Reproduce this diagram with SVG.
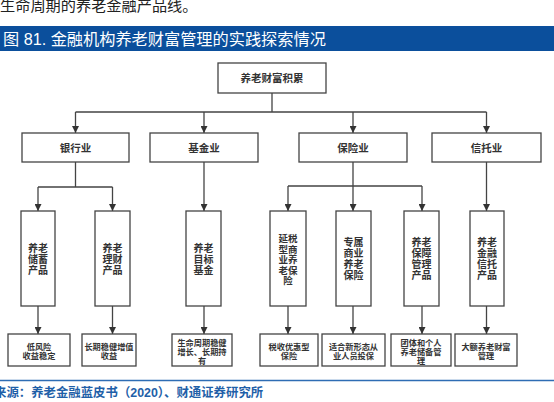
<svg xmlns="http://www.w3.org/2000/svg" width="554" height="402" viewBox="0 0 554 402">
<defs>
<style>
.box{fill:#fff;stroke:#444;stroke-width:1.3}
.t{font-family:"Liberation Sans","Noto Sans CJK SC",sans-serif;fill:#333;font-weight:bold;text-anchor:middle}
.l2{font-size:10.5px}
.l3{font-size:10px}
.l3s{font-size:9.5px}
.l4{font-size:8.2px}
.c{fill:none;stroke:#444;stroke-width:1.3}
</style>
<marker id="ah" viewBox="0 0 10 10" refX="10" refY="5" markerWidth="7" markerHeight="7" markerUnits="userSpaceOnUse" orient="auto">
<path d="M0,0 L10,5 L0,10 z" fill="#333"/>
</marker>
</defs>
<rect width="554" height="402" fill="#fff"/>
<text x="0" y="11" font-family="Liberation Sans,'Noto Sans CJK SC',sans-serif" font-size="15.2" fill="#222">生命周期的养老金融产品线。</text>
<rect x="0" y="26" width="554" height="25" fill="#0b4f9c"/>
<text x="3" y="44.5" font-family="Liberation Sans,'Noto Sans CJK SC',sans-serif" font-size="16.2" fill="#fff">图 81. 金融机构养老财富管理的实践探索情况</text>

<g id="connectors">
<path class="c" d="M272,93 V112 M75.5,112 H486.5"/>
<path class="c" marker-end="url(#ah)" d="M75.5,112 V133"/>
<path class="c" marker-end="url(#ah)" d="M204,112 V133"/>
<path class="c" marker-end="url(#ah)" d="M353,112 V133"/>
<path class="c" marker-end="url(#ah)" d="M486.5,112 V133"/>
<path class="c" d="M75.5,162 V187 M38,187 H112.5 M353,162 V186 M288,186 H422"/>
<path class="c" marker-end="url(#ah)" d="M38,187 V211"/>
<path class="c" marker-end="url(#ah)" d="M112.5,187 V211"/>
<path class="c" marker-end="url(#ah)" d="M204,162 V211"/>
<path class="c" marker-end="url(#ah)" d="M288,186 V211"/>
<path class="c" marker-end="url(#ah)" d="M353,186 V211"/>
<path class="c" marker-end="url(#ah)" d="M422,186 V211"/>
<path class="c" marker-end="url(#ah)" d="M486.5,162 V211"/>
<path class="c" marker-end="url(#ah)" d="M38,306 V334"/>
<path class="c" marker-end="url(#ah)" d="M112.5,306 V334"/>
<path class="c" marker-end="url(#ah)" d="M204,306 V334"/>
<path class="c" marker-end="url(#ah)" d="M288,306 V334"/>
<path class="c" marker-end="url(#ah)" d="M353,306 V334"/>
<path class="c" marker-end="url(#ah)" d="M422,306 V334"/>
<path class="c" marker-end="url(#ah)" d="M486.5,306 V334"/>
</g>

<g id="root"><rect class="box" x="218" y="63" width="108" height="30"/><text class="t l2" x="272" y="82">养老财富积累</text></g>

<g id="bank"><rect class="box" x="22" y="133" width="107" height="29"/><text class="t l2" x="75.5" y="151.5">银行业</text></g>
<g id="fund"><rect class="box" x="150" y="133" width="108" height="29"/><text class="t l2" x="204" y="151.5">基金业</text></g>
<g id="insurance"><rect class="box" x="299" y="133" width="108" height="29"/><text class="t l2" x="353" y="151.5">保险业</text></g>
<g id="trust"><rect class="box" x="432" y="133" width="109" height="29"/><text class="t l2" x="486.5" y="151.5">信托业</text></g>

<g id="p1"><rect class="box" x="21" y="211" width="34" height="95"/><text class="t l3"><tspan x="38" y="252">养老</tspan><tspan x="38" y="263">储蓄</tspan><tspan x="38" y="274">产品</tspan></text></g>
<g id="p2"><rect class="box" x="95" y="211" width="35" height="95"/><text class="t l3"><tspan x="112.5" y="252">养老</tspan><tspan x="112.5" y="263">理财</tspan><tspan x="112.5" y="274">产品</tspan></text></g>
<g id="p3"><rect class="box" x="186" y="211" width="35" height="95"/><text class="t l3"><tspan x="203.5" y="252">养老</tspan><tspan x="203.5" y="263">目标</tspan><tspan x="203.5" y="274">基金</tspan></text></g>
<g id="p4"><rect class="box" x="270" y="211" width="36" height="95"/><text class="t l3s"><tspan x="288" y="242">延税</tspan><tspan x="288" y="252.5">型商</tspan><tspan x="288" y="263">业养</tspan><tspan x="288" y="273.5">老保</tspan><tspan x="288" y="284">险</tspan></text></g>
<g id="p5"><rect class="box" x="336" y="211" width="35" height="95"/><text class="t l3"><tspan x="353.5" y="246">专属</tspan><tspan x="353.5" y="257">商业</tspan><tspan x="353.5" y="268">养老</tspan><tspan x="353.5" y="279">保险</tspan></text></g>
<g id="p6"><rect class="box" x="404" y="211" width="35" height="95"/><text class="t l3"><tspan x="421.5" y="246">养老</tspan><tspan x="421.5" y="257">保障</tspan><tspan x="421.5" y="268">管理</tspan><tspan x="421.5" y="279">产品</tspan></text></g>
<g id="p7"><rect class="box" x="470" y="211" width="34" height="95"/><text class="t l3"><tspan x="487" y="246">养老</tspan><tspan x="487" y="257">金融</tspan><tspan x="487" y="268">信托</tspan><tspan x="487" y="279">产品</tspan></text></g>

<g id="f1"><rect class="box" x="8" y="334" width="62" height="32"/><text class="t l4"><tspan x="39" y="350">低风险</tspan><tspan x="39" y="359">收益稳定</tspan></text></g>
<g id="f2"><rect class="box" x="82" y="334" width="54" height="32"/><text class="t l4"><tspan x="109" y="350">长期稳健增值</tspan><tspan x="109" y="359">收益</tspan></text></g>
<g id="f3"><rect class="box" x="172" y="334" width="60" height="32"/><text class="t l4"><tspan x="202" y="346">生命周期稳健</tspan><tspan x="202" y="355">增长、长期持</tspan><tspan x="202" y="364">有</tspan></text></g>
<g id="f4"><rect class="box" x="260" y="334" width="58" height="32"/><text class="t l4"><tspan x="289" y="350">税收优惠型</tspan><tspan x="289" y="359">保险</tspan></text></g>
<g id="f5"><rect class="box" x="322" y="334" width="63" height="32"/><text class="t l4"><tspan x="353.5" y="350">适合新形态从</tspan><tspan x="353.5" y="359">业人员投保</tspan></text></g>
<g id="f6"><rect class="box" x="391" y="334" width="60" height="32"/><text class="t l4"><tspan x="421" y="346">团体和个人</tspan><tspan x="421" y="355">养老储备管</tspan><tspan x="421" y="364">理</tspan></text></g>
<g id="f7"><rect class="box" x="455" y="334" width="62" height="32"/><text class="t l4"><tspan x="486" y="350">大额养老财富</tspan><tspan x="486" y="359">管理</tspan></text></g>

<line x1="0" y1="380.5" x2="554" y2="380.5" stroke="#2e6db4" stroke-width="1.5"/>
<text x="-6" y="397" font-family="Liberation Sans,'Noto Sans CJK SC',sans-serif" font-size="12.4" font-weight="bold" fill="#1f5fa8">来源：养老金融蓝皮书（2020）、财通证券研究所</text>
</svg>
